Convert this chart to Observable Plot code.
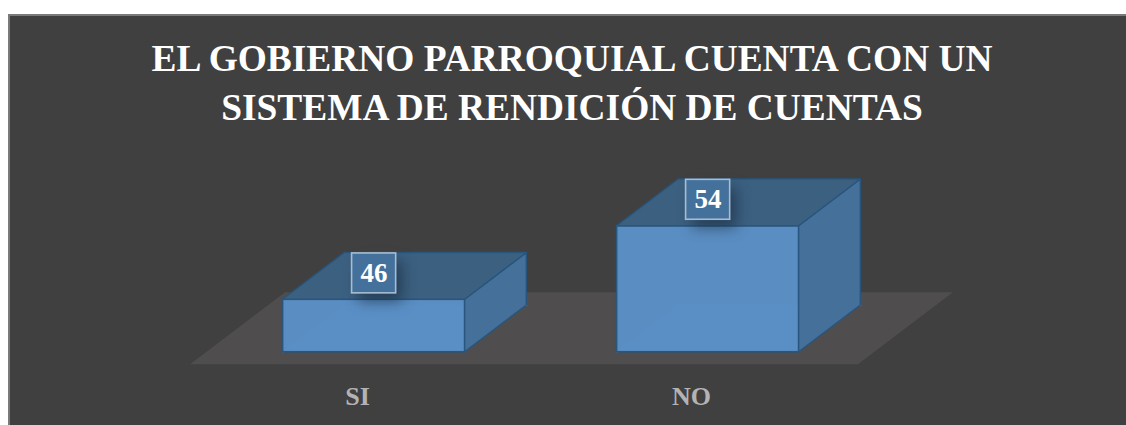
<!DOCTYPE html>
<html lang="es">
<head>
<meta charset="utf-8">
<script src="https://cdn.jsdelivr.net/npm/d3@7"></script>
<script src="https://cdn.jsdelivr.net/npm/@observablehq/plot@0.6"></script>
<style>
html,body{margin:0;padding:0;background:#fff;overflow:hidden}
#panel{position:absolute;left:8px;top:14px;width:1118px;height:411px;background:#404040;box-sizing:border-box;border-top:2px solid #7a7a7a;border-left:2px solid #7a7a7a;overflow:hidden}
#title{position:absolute;left:-10px;top:18px;width:1126px;text-align:center;margin:0;transform:translateX(9px);font:bold 37.4px/49px "Liberation Serif",serif;color:#fff}
#chart{position:absolute;left:-10px;top:128px}
svg{display:block}
</style>
</head>
<body>
<div id="panel">
  <h1 id="title">EL GOBIERNO PARROQUIAL CUENTA CON UN<br>SISTEMA DE RENDICIÓN DE CUENTAS</h1>
  <div id="chart"></div>
</div>
<script>
const categories = ["SI", "NO"];
const values = [46, 54];
const baseValue = 40.3;

// oblique projection parameters (category units and value units per unit of depth)
const kx = 0.2844, ky = 7.826, d0 = 0.175, d1 = 0.824, halfBar = 0.2725;
const floorValue = baseValue - d0 * ky;

const bars = categories.map((name, i) => ({
  name, value: values[i],
  left: i + 0.5 - halfBar + d0 * kx,
  right: i + 0.5 + halfBar + d0 * kx,
  center: i + 0.5 + d0 * kx
}));
const shift = d1 - d0;

const floor = [
  {y: floorValue, x1: 0, x2: 2},
  {y: floorValue + ky, x1: kx, x2: 2 + kx}
];
const sideFaces = bars.flatMap(b => [
  {name: b.name, x: b.right, y1: baseValue, y2: b.value},
  {name: b.name, x: b.right + shift * kx, y1: baseValue + shift * ky, y2: b.value + shift * ky}
]);
const topFaces = bars.flatMap(b => [
  {name: b.name, y: b.value, x1: b.left, x2: b.right},
  {name: b.name, y: b.value + shift * ky, x1: b.left + shift * kx, x2: b.right + shift * kx}
]);
const bottomFaces = bars.flatMap(b => [
  {name: b.name, y: baseValue, x1: b.left, x2: b.right},
  {name: b.name, y: baseValue + shift * ky, x1: b.left + shift * kx, x2: b.right + shift * kx}
]);
const innerEdges = bars.flatMap(b => [
  {name: b.name, x: b.left, y: baseValue},
  {name: b.name, x: b.left + shift * kx, y: baseValue + shift * ky},
  {name: b.name, x: b.left + shift * kx, y: b.value + shift * ky},
  {name: b.name + "2", x: b.left + shift * kx, y: baseValue + shift * ky},
  {name: b.name + "2", x: b.right + shift * kx, y: baseValue + shift * ky}
]);
const labelMid = b => b.value + shift * ky / 2 + 0.33;
const labelW = 0.066, labelH = 2.17;

const plot = Plot.plot({
  width: 1126, height: 281,
  margin: 0,
  style: {background: "transparent"},
  x: {type: "linear", domain: [0, 2], range: [190, 858], axis: null},
  y: {type: "linear", domain: [39, 63], range: [219.7, -1.1], axis: null},
  marks: [
    Plot.areaX(floor, {y: "y", x1: "x1", x2: "x2", fill: "#4f4d4d"}),
    Plot.areaX(bottomFaces, {y: "y", x1: "x1", x2: "x2", z: "name", fill: "#4f86bd", fillOpacity: 0.9}),
    Plot.line(innerEdges, {x: "x", y: "y", z: "name", stroke: "#4f8cc6", strokeWidth: 1}),
    Plot.rect(bars, {x1: "left", x2: "right", y1: baseValue, y2: "value", fill: "#5b90c6", fillOpacity: 0.97, stroke: "#28567f", strokeWidth: 1.6}),
    Plot.areaY(sideFaces, {x: "x", y1: "y1", y2: "y2", z: "name", fill: "#457099", stroke: "#28567f", strokeWidth: 1.4}),
    Plot.areaX(topFaces, {y: "y", x1: "x1", x2: "x2", z: "name", fill: "#3c6080", stroke: "#28567f", strokeWidth: 1.4}),
    Plot.rect(bars, {
      x1: b => b.center - labelW + 0.02, x2: b => b.center + labelW + 0.02,
      y1: b => labelMid(b) - labelH - 0.9, y2: b => labelMid(b) + labelH - 0.9,
      fill: "#16283c", fillOpacity: 0.6, imageFilter: "blur(7px)"
    }),
    Plot.rect(bars, {
      x1: b => b.center - labelW, x2: b => b.center + labelW,
      y1: b => labelMid(b) - labelH, y2: b => labelMid(b) + labelH,
      fill: "#44719b", stroke: "#a9bdd0", strokeWidth: 1.6
    }),
    Plot.text(bars, {x: "center", y: labelMid, text: d => String(d.value), fill: "#fff",
      fontFamily: "Liberation Serif", fontWeight: "bold", fontSize: 27}),
    Plot.text(categories, {x: (d, i) => i + 0.5, y: floorValue, dy: 32, text: d => d, fill: "#b3b3b3",
      fontFamily: "Liberation Serif", fontWeight: "bold", fontSize: 26})
  ]
});
document.getElementById("chart").append(plot);
</script>
</body>
</html>
